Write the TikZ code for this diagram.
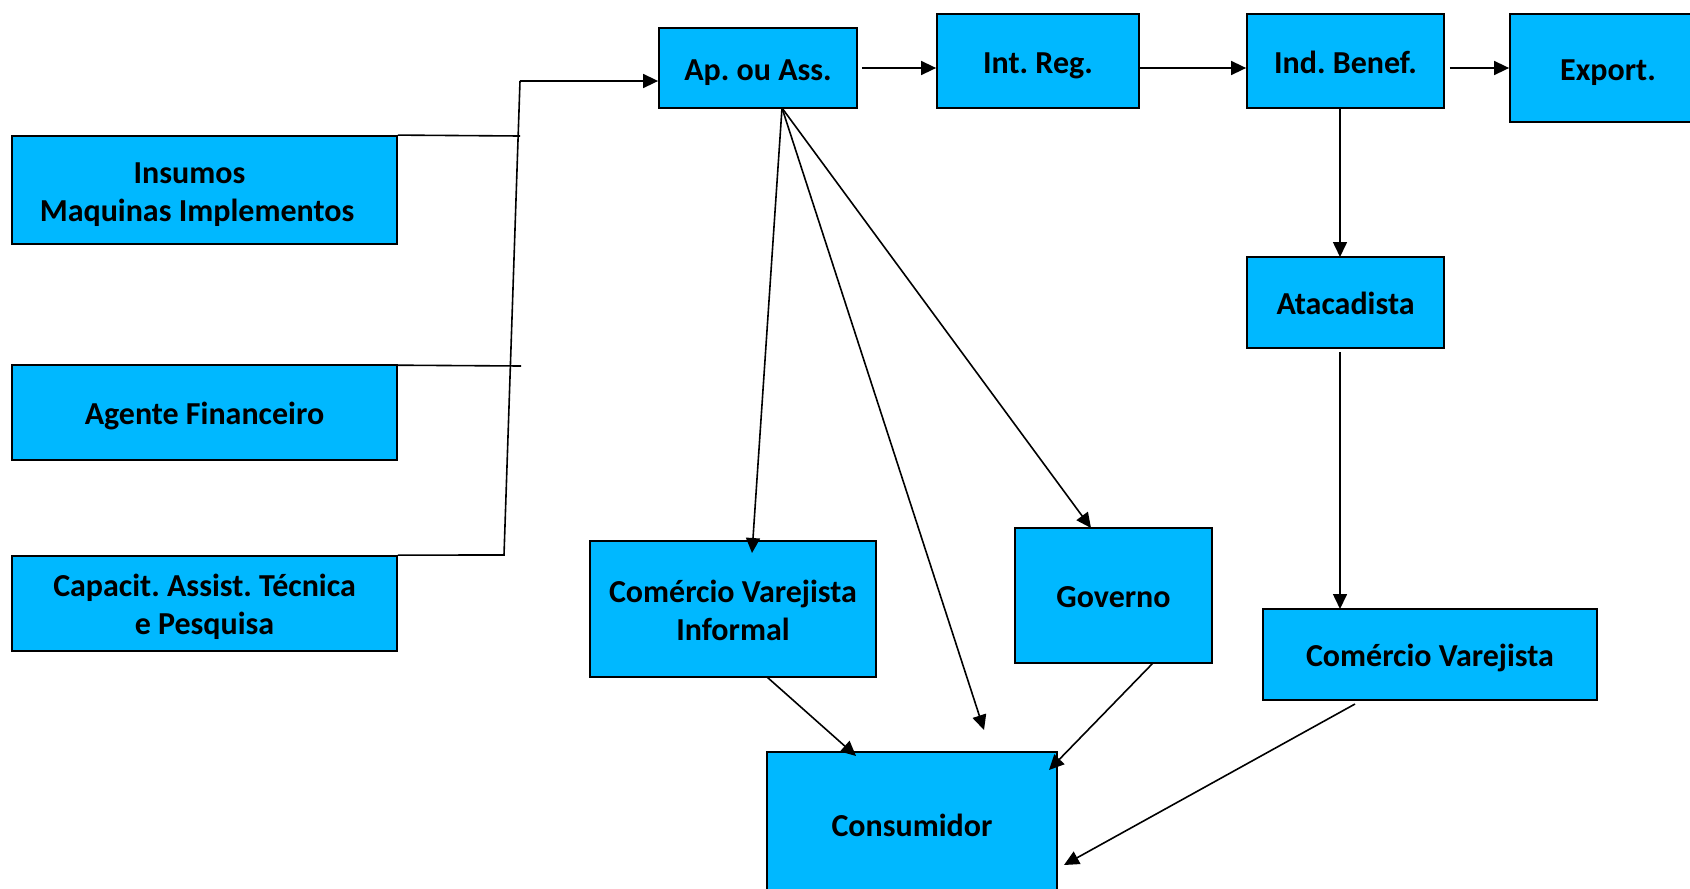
\documentclass[tikz,border=0pt]{standalone}
\usepackage{fontspec}
\setmainfont{Carlito}
\usetikzlibrary{arrows.meta,calc}
\definecolor{boxblue}{RGB}{0,184,255}
\frenchspacing
\newcommand{\boxtopstrut}{\rule{0pt}{30pt}}
\newcommand{\boxbotstrut}{\rule[-6pt]{0pt}{6pt}}
\begin{document}
\begin{tikzpicture}[x=1pt,y=-1pt,
  box/.style={draw=black, line width=1.8pt, fill=boxblue, inner sep=0pt,
    font=\fontsize{32}{38}\selectfont\bfseries, align=center},
  conn/.style={line width=1.6pt},
  arr/.style={conn, -{Triangle[length=15pt,width=14pt]}}]
\useasboundingbox (0,0) rectangle (1690,889);
% boxes
\node[box, minimum width=385pt, minimum height=108pt] (ins) at (204.5,190) {\boxtopstrut Insumos\hspace*{30pt}\\Maquinas Implementos\hspace*{15pt}\boxbotstrut};
\node[box, minimum width=385pt, minimum height=95pt] (agf) at (204.5,412.5) {\boxtopstrut Agente Financeiro\boxbotstrut};
\node[box, minimum width=385pt, minimum height=95pt] (cap) at (204.5,603.5) {\boxtopstrut Capacit. Assist. Técnica\\e Pesquisa\boxbotstrut};
\node[box, minimum width=198pt, minimum height=80pt] (ap) at (758,68) {\boxtopstrut Ap. ou Ass.\boxbotstrut};
\node[box, minimum width=202pt, minimum height=94pt] (ir) at (1038,61) {\boxtopstrut Int. Reg.\boxbotstrut};
\node[box, minimum width=197pt, minimum height=94pt] (ib) at (1345.5,61) {\boxtopstrut Ind. Benef.\boxbotstrut};
\node[box, minimum width=196pt, minimum height=108pt] (ex) at (1608,68) {\boxtopstrut Export.\boxbotstrut};
\node[box, minimum width=197pt, minimum height=91pt] (at) at (1345.5,302.5) {\boxtopstrut Atacadista\boxbotstrut};
\node[box, minimum width=286pt, minimum height=136pt] (cvi) at (733,609) {\boxtopstrut Comércio Varejista\\Informal\boxbotstrut};
\node[box, minimum width=197pt, minimum height=135pt] (gov) at (1113.5,595.5) {\boxtopstrut Governo\boxbotstrut};
\node[box, minimum width=334pt, minimum height=91pt] (cv) at (1430,654.5) {\boxtopstrut Comércio Varejista\boxbotstrut};
\node[box, minimum width=290pt, minimum height=144pt] (con) at (912,824) {\boxtopstrut Consumidor\boxbotstrut};
% junction points of the left bus
\coordinate (j1) at (520,136);
\coordinate (j2) at (521,366);
\coordinate (j3) at (504,555);
\coordinate (jt) at (520,81);
\draw[conn] (ins.north east) -- (j1);
\draw[conn] ($(agf.north east)+(-14,1)$) -- (j2);
\draw[conn] (cap.north east) -- (j3) -- (jt);
\draw[arr] (jt) -- (ap.west |- jt);
% top chain
\draw[arr] ($(ap.east)+(4,0)$) -- (ir.west |- ap.east);
\draw[arr] (ir.east |- ap.east) -- (ib.west |- ap.east);
\draw[arr] ($(ib.east |- ap.east)+(5,0)$) -- (ex.west |- ap.east);
% right column
\coordinate (ibs) at (1340,108);
\coordinate (atn) at (1340,257);
\coordinate (ats) at (1340,352);
\coordinate (cvn) at (1340,609);
\draw[arr] (ibs) -- (atn);
\draw[arr] (ats) -- (cvn);
% fan from Ap. ou Ass.
\coordinate (aps) at (782,108);
\coordinate (cvit) at (752,553);
\coordinate (free) at (984,730);
\coordinate (govt) at (1091,528);
\draw[arr] (aps) -- (cvit);
\draw[arr] (aps) -- (free);
\draw[arr] (aps) -- (govt);
% into Consumidor
\coordinate (cvib) at (767,677);
\coordinate (con1) at (856,756);
\coordinate (govb) at (1153,663);
\coordinate (con2) at (1049,770);
\coordinate (cvb) at (1355,704);
\coordinate (con3) at (1064,865);
\draw[arr] (cvib) -- (con1);
\draw[arr] (govb) -- (con2);
\draw[arr] (cvb) -- (con3);
\end{tikzpicture}
\end{document}
